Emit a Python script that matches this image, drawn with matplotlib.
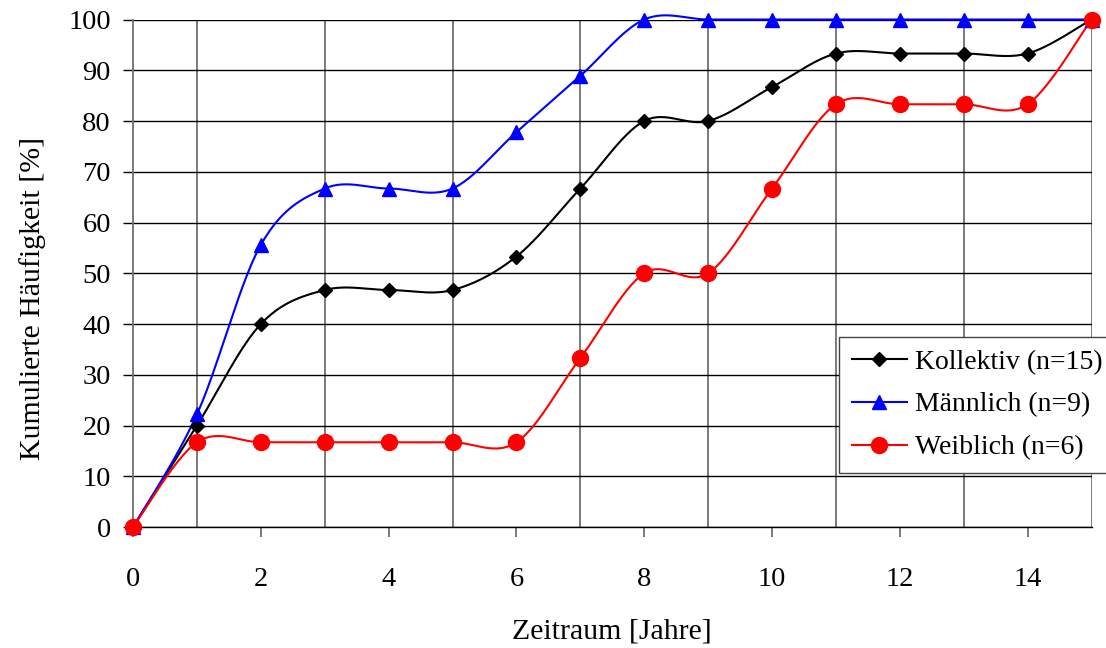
import numpy as np
import matplotlib as mpl
import matplotlib.pyplot as plt

years = list(range(16))
kollektiv = [0, 20.0, 40.0, 46.7, 46.7, 46.7, 53.3, 66.7, 80.0, 80.0,
             86.7, 93.3, 93.3, 93.3, 93.3, 100.0]
maennlich = [0, 22.2, 55.6, 66.7, 66.7, 66.7, 77.8, 88.9, 100.0, 100.0,
             100.0, 100.0, 100.0, 100.0, 100.0, 100.0]
weiblich = [0, 16.7, 16.7, 16.7, 16.7, 16.7, 16.7, 33.3, 50.0, 50.0,
            66.7, 83.3, 83.3, 83.3, 83.3, 100.0]


def smooth(xs, ys, steps=30):
    # Bezier smoothing through every point (tension 1/6, like spreadsheet charts)
    p = np.column_stack([xs, ys]).astype(float)
    n = len(p)
    out = [p[0]]
    t = np.linspace(0, 1, steps)[1:, None]
    for i in range(n - 1):
        prev = p[i - 1] if i > 0 else p[i]
        nxt = p[i + 2] if i + 2 < n else p[i + 1]
        c1 = p[i] + (p[i + 1] - prev) / 6
        c2 = p[i + 1] - (nxt - p[i]) / 6
        seg = ((1 - t) ** 3 * p[i] + 3 * (1 - t) ** 2 * t * c1
               + 3 * (1 - t) * t ** 2 * c2 + t ** 3 * p[i + 1])
        out.extend(seg)
    out = np.array(out)
    return out[:, 0], out[:, 1]


mpl.rcParams['font.family'] = ['Liberation Serif', 'DejaVu Serif']
mpl.rcParams['font.size'] = 20.5

dpi = 100
fig = plt.figure(dpi=dpi, figsize=(1106 / dpi, 648 / dpi))
ax = fig.add_axes([0.1203, 0.1867, 0.8666, 0.7832])

series = [
    (kollektiv, 'Kollektiv (n=15)', 'black', 'D', 7.5),
    (maennlich, 'Männlich (n=9)', 'blue', '^', 9.5),
    (weiblich, 'Weiblich (n=6)', 'red', 'o', 11.5),
]
handles = []
for ys, label, color, marker, ms in series:
    sx, sy = smooth(years, ys)
    ax.plot(sx, sy, color=color, lw=1.5, clip_on=False, zorder=3)
    ax.plot(years, ys, ls='none', marker=marker, ms=ms, color=color,
            clip_on=False, zorder=4)
    handles.append(mpl.lines.Line2D([], [], color=color, lw=1.5,
                                    marker=marker, ms=ms, label=label))

ax.set_xlim(0, 15)
ax.set_ylim(0, 100)
ax.set_xticks(range(0, 15, 2))
ax.set_xticks(range(0, 16), minor=True)
ax.set_yticks(range(0, 101, 10))

ax.xaxis.grid(True, which='minor', color='#707070', lw=1.3, zorder=1)
ax.yaxis.grid(True, color='black', lw=1.0, zorder=1)

for side in ['top', 'right']:
    ax.spines[side].set_visible(False)
ax.spines['left'].set_color('#707070')
ax.spines['left'].set_linewidth(1.3)
ax.spines['bottom'].set_color('black')
ax.spines['bottom'].set_linewidth(1.0)

ax.tick_params(axis='x', which='major', direction='out', length=7,
               width=1.3, color='#707070', pad=22)
ax.tick_params(axis='x', which='minor', length=0)
ax.tick_params(axis='y', direction='out', length=7, width=1.0,
               color='black', pad=9)

ax.set_xlabel('Zeitraum [Jahre]', fontsize=21.5, labelpad=19)
ax.set_ylabel('Kumulierte Häufigkeit [%]', fontsize=21.5, labelpad=16,
              y=0.45)

leg = fig.legend(handles=handles, loc='upper left',
                 bbox_to_anchor=(839 / 1106, 1 - 337 / 648),
                 borderaxespad=0, frameon=True, fancybox=False,
                 edgecolor='#444444', framealpha=1, handlelength=2.0,
                 handletextpad=0.3, borderpad=0.45, labelspacing=0.62,
                 fontsize=20)
leg.get_frame().set_linewidth(1.0)

fig.savefig('out.png', dpi=dpi)
